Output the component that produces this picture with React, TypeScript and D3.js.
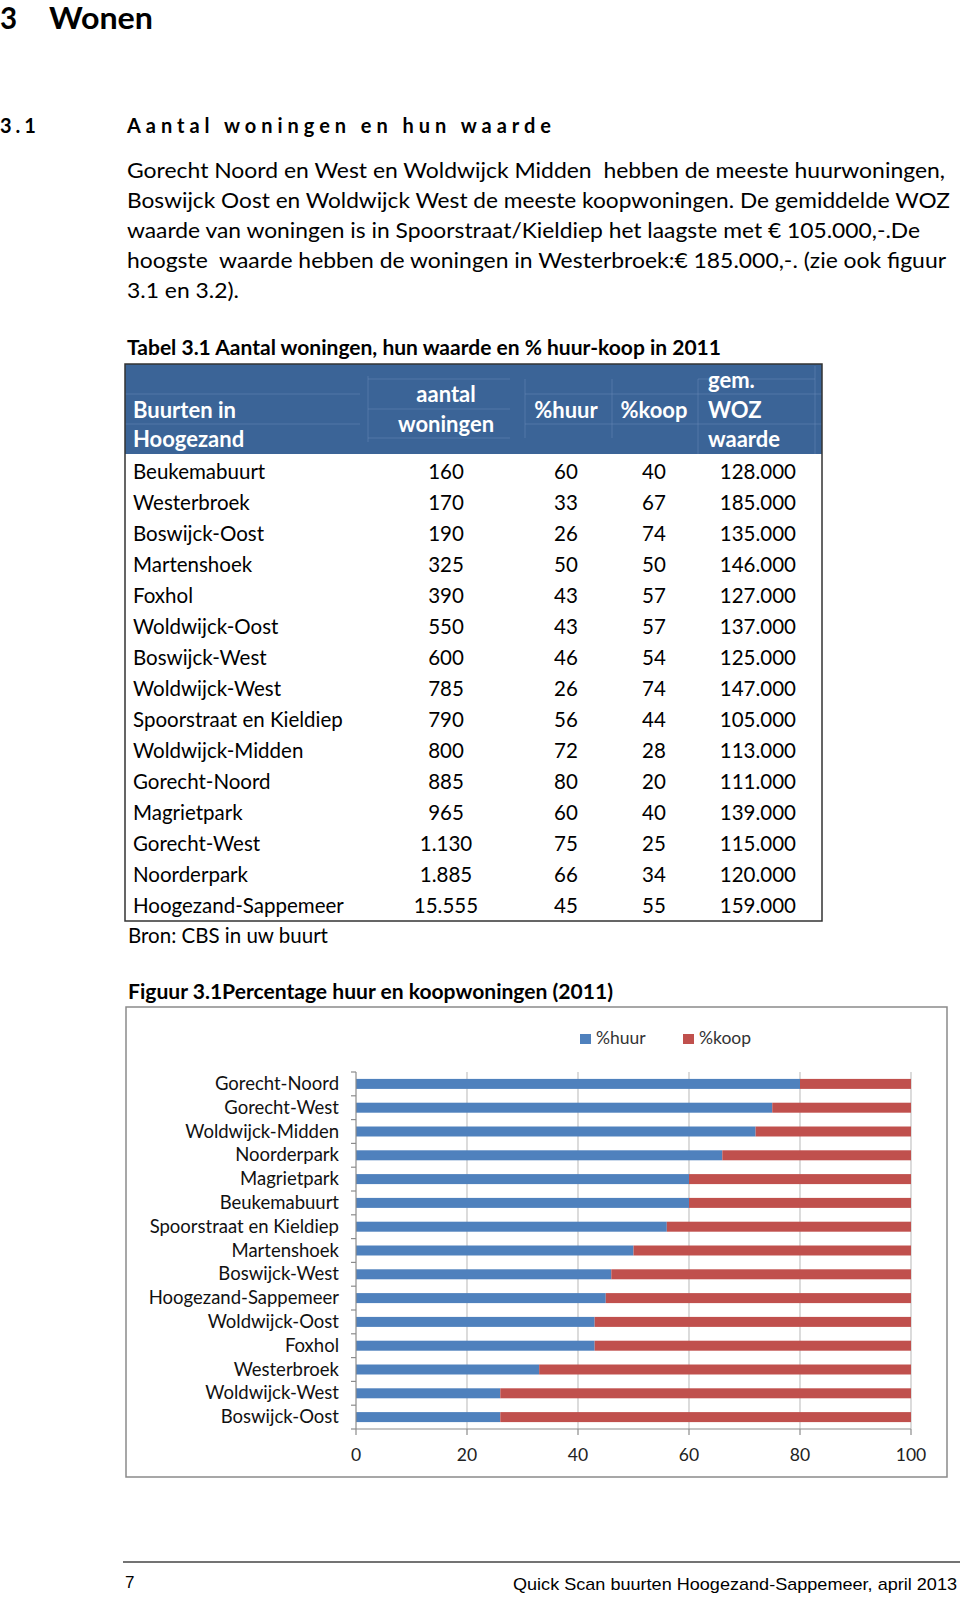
import React from 'react';
import * as d3 from 'd3';

// ---------- data ----------
const neighbourhoods = [
  'Beukemabuurt', 'Westerbroek', 'Boswijck-Oost', 'Martenshoek', 'Foxhol',
  'Woldwijck-Oost', 'Boswijck-West', 'Woldwijck-West', 'Spoorstraat en Kieldiep',
  'Woldwijck-Midden', 'Gorecht-Noord', 'Magrietpark', 'Gorecht-West', 'Noorderpark',
  'Hoogezand-Sappemeer',
];
const dwellings = [160, 170, 190, 325, 390, 550, 600, 785, 790, 800, 885, 965, 1130, 1885, 15555];
const pctHuur = [60, 33, 26, 50, 43, 43, 46, 26, 56, 72, 80, 60, 75, 66, 45];
const pctKoop = [40, 67, 74, 50, 57, 57, 54, 74, 44, 28, 20, 40, 25, 34, 55];
const wozValue = [128000, 185000, 135000, 146000, 127000, 137000, 125000, 147000, 105000, 113000, 111000, 139000, 115000, 120000, 159000];

// chart categories, top to bottom
const chartOrder = [
  'Gorecht-Noord', 'Gorecht-West', 'Woldwijck-Midden', 'Noorderpark', 'Magrietpark',
  'Beukemabuurt', 'Spoorstraat en Kieldiep', 'Martenshoek', 'Boswijck-West',
  'Hoogezand-Sappemeer', 'Woldwijck-Oost', 'Foxhol', 'Westerbroek', 'Woldwijck-West',
  'Boswijck-Oost',
];
const xTicks = [0, 20, 40, 60, 80, 100];
const seriesNames = ['%huur', '%koop'];

const paragraphLines = [
  'Gorecht Noord en West en Woldwijck Midden  hebben de meeste huurwoningen,',
  'Boswijck Oost en Woldwijck West de meeste koopwoningen. De gemiddelde WOZ',
  'waarde van woningen is in Spoorstraat/Kieldiep het laagste met € 105.000,-.De',
  'hoogste  waarde hebben de woningen in Westerbroek:€ 185.000,-. (zie ook figuur',
  '3.1 en 3.2).',
];

// ---------- layout / style ----------
const W = 960;
const H = 1597;
const FONT = "Lato, 'Open Sans', sans-serif";
const BLUE = '#4F81BD';
const RED = '#C0504D';
const HEADER = '#3B6497';
const paraWidths = [818, 823, 793, 819, 112];

export default function App() {
  const nl = d3.formatLocale({ decimal: ',', thousands: '.', grouping: [3], currency: ['€ ', ''] });
  const fmt = nl.format(',');

  const x = d3.scaleLinear().domain([0, 100]).range([356, 911]);
  const y = d3.scaleBand<string>().domain(chartOrder).range([1072, 1429]).paddingInner(0.58).paddingOuter(0.29);
  const rowY = d3.scaleLinear().domain([0, neighbourhoods.length - 1]).range([479, 913]);
  const paraY = d3.scaleLinear().domain([0, 1]).range([178, 208]);

  const idx = (name: string) => neighbourhoods.indexOf(name);
  const step = y.step();
  const bandTop = y.range()[0];
  const boundaries = d3.range(chartOrder.length + 1).map((i) => bandTop + i * step);

  const faint = { stroke: '#6E90BC', strokeOpacity: 0.45, strokeWidth: 1 };

  return (
    <svg width={W} height={H} style={{ position: 'absolute', left: 0, top: 0, background: '#fff' }} fontFamily={FONT}>
      <rect width={W} height={H} fill="#fff" />
      {/* Headings */}
      <text x={0} y={29} fontSize={29.5} fontWeight={700} fill="#000">3</text>
      <text x={49} y={29} fontSize={29.5} fontWeight={700} fill="#000" textLength={104} lengthAdjust="spacingAndGlyphs">Wonen</text>
      <text x={0} y={133} fontSize={20} fontWeight={700} fill="#000" letterSpacing={4}>3.1</text>
      <text x={127} y={133} fontSize={20} fontWeight={700} fill="#000" textLength={427} lengthAdjust="spacing" letterSpacing={3}>Aantal woningen en hun waarde</text>

      {paragraphLines.map((line, i) => (
        <text key={i} x={127} y={paraY(i)} fontSize={22} fill="#000" textLength={paraWidths[i]} lengthAdjust="spacingAndGlyphs" style={{ whiteSpace: 'pre' }}>{line}</text>
      ))}

      {/* Table */}
      <text x={127} y={355} fontSize={20} fontWeight={700} fill="#000" textLength={594} lengthAdjust="spacingAndGlyphs">Tabel 3.1 Aantal woningen, hun waarde en % huur-koop in 2011</text>
      <rect x={125} y={364} width={697} height={90} fill={HEADER} />
      {/* faint internal header gridlines */}
      <g {...faint}>
        <line x1={125} x2={360} y1={394} y2={394} />
        <line x1={125} x2={360} y1={424} y2={424} />
        <line x1={368} x2={510} y1={379} y2={379} />
        <line x1={368} x2={510} y1={409} y2={409} />
        <line x1={368} x2={510} y1={438} y2={438} />
        <line x1={525} x2={822} y1={394} y2={394} />
        <line x1={525} x2={822} y1={424} y2={424} />
        <line x1={698} x2={815} y1={379} y2={379} />
        <line x1={368} x2={368} y1={376} y2={442} />
        <line x1={525} x2={525} y1={379} y2={438} />
        <line x1={612} x2={612} y1={379} y2={438} />
        <line x1={698} x2={698} y1={379} y2={454} />
        <line x1={815} x2={815} y1={366} y2={454} />
      </g>
      <g fill="#fff" fontWeight={700} fontSize={22}>
        <text x={133} y={418}>Buurten in</text>
        <text x={133} y={447}>Hoogezand</text>
        <text x={446} y={402} textAnchor="middle">aantal</text>
        <text x={446} y={432} textAnchor="middle">woningen</text>
        <text x={566} y={418} textAnchor="middle">%huur</text>
        <text x={654} y={418} textAnchor="middle">%koop</text>
        <text x={708} y={388}>gem.</text>
        <text x={708} y={418}>WOZ</text>
        <text x={708} y={447}>waarde</text>
      </g>
      <g fontSize={20.5} fill="#000">
        {neighbourhoods.map((n, i) => (
          <g key={n}>
            <text x={133} y={rowY(i)}>{n}</text>
            <text x={446} y={rowY(i)} textAnchor="middle">{fmt(dwellings[i])}</text>
            <text x={566} y={rowY(i)} textAnchor="middle">{pctHuur[i]}</text>
            <text x={654} y={rowY(i)} textAnchor="middle">{pctKoop[i]}</text>
            <text x={796} y={rowY(i)} textAnchor="end">{fmt(wozValue[i])}</text>
          </g>
        ))}
      </g>
      <rect x={125} y={364} width={697} height={557} fill="none" stroke="#333" strokeWidth={1.5} />
      <text x={128} y={943} fontSize={20.5} fill="#000">Bron: CBS in uw buurt</text>

      {/* Figure */}
      <text x={128} y={999} fontSize={20} fontWeight={700} fill="#000" textLength={485} lengthAdjust="spacingAndGlyphs">Figuur 3.1Percentage huur en koopwoningen (2011)</text>
      <rect x={126} y={1007} width={821} height={470} fill="#fff" stroke="#8A8A8A" strokeWidth={1.5} />

      {/* legend */}
      {seriesNames.map((s, i) => (
        <g key={s} transform={`translate(${580 + i * 103},1034)`}>
          <rect width={11} height={10} fill={i === 0 ? BLUE : RED} />
          <text x={16} y={10} fontSize={17.5} fill="#333">{s}</text>
        </g>
      ))}

      {/* gridlines */}
      {xTicks.slice(1).map((t) => (
        <line key={t} x1={x(t)} x2={x(t)} y1={1072} y2={1429} stroke="#C4C4C4" strokeWidth={1.2} />
      ))}

      {/* bars */}
      {chartOrder.map((n) => {
        const i = idx(n);
        const yy = y(n)!;
        return (
          <g key={n}>
            <rect x={x(0)} y={yy} width={x(pctHuur[i]) - x(0)} height={y.bandwidth()} fill={BLUE} />
            <rect x={x(pctHuur[i])} y={yy} width={x(pctHuur[i] + pctKoop[i]) - x(pctHuur[i])} height={y.bandwidth()} fill={RED} />
          </g>
        );
      })}

      {/* axes */}
      <line x1={x(0)} x2={x(0)} y1={1072} y2={1429} stroke="#8C8C8C" strokeWidth={1.2} />
      {boundaries.map((b, i) => (
        <line key={i} x1={x(0) - 5} x2={x(0)} y1={b} y2={b} stroke="#8C8C8C" strokeWidth={1.2} />
      ))}
      <line x1={x(0)} x2={x(100)} y1={1429} y2={1429} stroke="#8C8C8C" strokeWidth={1.2} />
      {xTicks.map((t) => (
        <g key={t}>
          <line x1={x(t)} x2={x(t)} y1={1429} y2={1435} stroke="#8C8C8C" strokeWidth={1.2} />
          <text x={x(t)} y={1461} fontSize={17.5} textAnchor="middle" fill="#222">{t}</text>
        </g>
      ))}
      {chartOrder.map((n) => (
        <text key={n} x={339} y={y(n)! + y.bandwidth() / 2 + 6} fontSize={18.5} textAnchor="end" fill="#111">{n}</text>
      ))}

      {/* footer */}
      <line x1={123} x2={960} y1={1562} y2={1562} stroke="#444" strokeWidth={1.3} />
      <text x={125} y={1588} fontSize={17} fontFamily="'Liberation Sans', Arial, sans-serif" fill="#000">7</text>
      <text x={513} y={1590} fontSize={17} fontFamily="'Liberation Sans', Arial, sans-serif" fill="#000" textLength={444} lengthAdjust="spacingAndGlyphs">Quick Scan buurten Hoogezand-Sappemeer, april 2013</text>
    </svg>
  );
}
